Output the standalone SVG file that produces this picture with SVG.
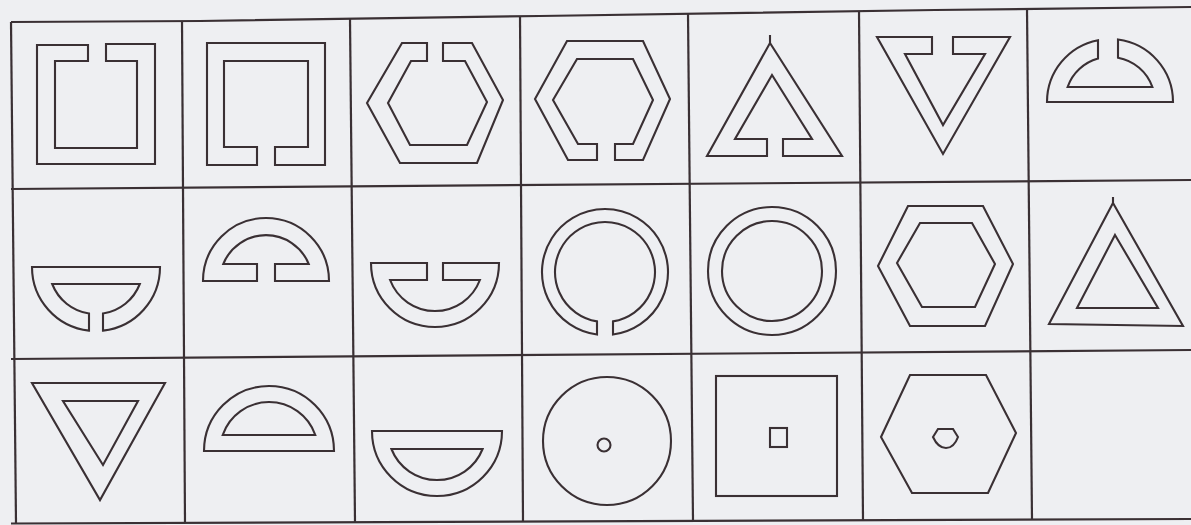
<svg xmlns="http://www.w3.org/2000/svg" width="1191" height="525" viewBox="0 0 1191 525">
<style>
.s{fill:none;stroke:#3a3034;stroke-width:2.1;stroke-linejoin:miter}
.g{fill:none;stroke:#3a3034;stroke-width:2.2}
</style>
<rect x="0" y="0" width="1191" height="525" fill="#eeeff2"/>
<g id="grid" class="g">
<polyline points="11,22 200,21 540,16 935,10 1191,7"/>
<line x1="11" y1="189" x2="1191" y2="180"/>
<line x1="11" y1="359" x2="1191" y2="350"/>
<line x1="11" y1="523.5" x2="1191" y2="519"/>
<line x1="11" y1="22" x2="16" y2="523.5"/>
<line x1="182" y1="21" x2="185" y2="523"/>
<line x1="350" y1="19" x2="355" y2="522"/>
<line x1="520" y1="16" x2="523" y2="522"/>
<line x1="688" y1="14" x2="693" y2="521"/>
<line x1="859" y1="11" x2="863" y2="520"/>
<line x1="1027" y1="9" x2="1032" y2="520"/>
</g>
<g id="r1c1" class="s"><path d="M88,45 L37,45 L37,164 L155,164 L155,44 L106,44 L106,61 L137,61 L137,148 L55,148 L55,61 L88,61 Z"/></g>
<g id="r1c2" class="s"><path d="M257,165 L207,165 L207,43 L325,43 L325,165 L275,165 L275,147 L308,147 L308,61 L224,61 L224,147 L257,147 Z"/></g>
<g id="r1c3" class="s"><path d="M427,43 L402,43 L367,103 L400,163 L477,163 L503,100 L472,43 L443,43 L443,61 L465,61 L487,102 L467,145 L410,145 L388,103 L411,61 L427,61 Z"/></g>
<g id="r1c4" class="s"><path d="M597,160 L568,160 L535,99 L567,41 L643,41 L670,99 L643,160 L615,160 L615,144 L633,144 L653,100 L633,59 L577,59 L553,100 L578,144 L597,144 Z"/></g>
<g id="r1c5" class="s"><path d="M767,156 L707,156 L770,43 L842,156 L783,156 L783,139 L812,139 L772,75 L735,139 L767,139 Z"/><line x1="770" y1="43" x2="770" y2="35"/></g>
<g id="r1c6" class="s"><path d="M932,37 L877,37 L943,154 L1010,37 L953,37 L953,54 L985,54 L943,125 L905,54 L932,54 Z"/></g>
<g id="r1c7" class="s"><path d="M1098,40.2 A63,63 0 0 0 1047,102 L1173,102 A63,63 0 0 0 1118,39.5 L1118,57.7 A45,45 0 0 1 1152.4,87 L1067.6,87 A45,45 0 0 1 1098,58.6 Z"/></g>
<g id="r2c1" class="s"><path d="M89,330.6 A64,64 0 0 1 32,267 L160,267 A64,64 0 0 1 103,330.6 L103,313.5 A47,47 0 0 0 139.8,284 L52.2,284 A47,47 0 0 0 89,313.5 Z"/></g>
<g id="r2c2" class="s"><path d="M257,281 L203,281 A63,63 0 0 1 329,281 L275,281 L275,264 L308.7,264 A46,46 0 0 0 223.3,264 L257,264 Z"/></g>
<g id="r2c3" class="s"><path d="M427,263 L371,263 A64,64 0 0 0 499,263 L443,263 L443,280 L479.9,280 A48,48 0 0 1 390.1,280 L427,280 Z"/></g>
<g id="r2c4" class="s"><path d="M597,334.5 A63,63 0 1 1 613,334.5 L613,321.4 A50,50 0 1 0 597,321.4 Z"/></g>
<g id="r2c5" class="s"><circle cx="772" cy="271" r="64"/><circle cx="772" cy="271" r="50"/></g>
<g id="r2c6" class="s"><polygon points="908,206 983,206 1013,264 985,326 910,326 878,266"/><polygon points="920,223 972,223 995,264 975,307 922,307 897,263"/></g>
<g id="r2c7" class="s"><polygon points="1113,203 1183,326 1049,324"/><line x1="1113" y1="203" x2="1113" y2="197"/><polygon points="1115,235 1158,308 1077,308"/></g>
<g id="r3c1" class="s"><polygon points="32,383 165,383 100,500"/><polygon points="63,401 138,401 103,465"/></g>
<g id="r3c2" class="s"><path d="M204,451 A65,65 0 0 1 334,451 Z"/><path d="M222.7,435 A49,49 0 0 1 315.3,435 Z"/></g>
<g id="r3c3" class="s"><path d="M372,431 A65,65 0 0 0 502,431 Z"/><path d="M391.4,449 A49,49 0 0 0 482.6,449 Z"/></g>
<g id="r3c4" class="s"><circle cx="607" cy="441" r="64"/><circle cx="604" cy="445" r="6.5"/></g>
<g id="r3c5" class="s"><rect x="716" y="376" width="121" height="120"/><rect x="770" y="428" width="17" height="19"/></g>
<g id="r3c6" class="s"><polygon points="910,375 986,375 1016,433 988,493 912,493 881,437"/><path d="M938,429 L953,429 L958,437 Q954,448 946,448 Q938,448 933,437 Z"/></g>
</svg>
